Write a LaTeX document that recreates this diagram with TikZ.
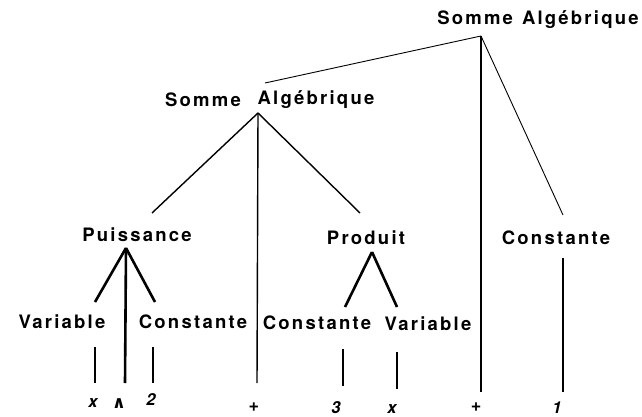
\documentclass[tikz,border=0pt]{standalone}
\usepackage{fontspec}
\newfontfamily\labfont[LetterSpace=12]{TeX Gyre Heros}
\newfontfamily\leaffont{TeX Gyre Heros}
\newfontfamily\symfont{DejaVu Sans}
\begin{document}
\begin{tikzpicture}[x=1pt,y=-1pt,
  lbl/.style={inner sep=0pt,font=\labfont\bfseries\fontsize{18.5}{20}\selectfont},
  leaf/.style={inner sep=0pt,font=\leaffont\bfseries\itshape\fontsize{16.5}{18}\selectfont},
  plus/.style={inner sep=0pt,font=\leaffont\bfseries\fontsize{18}{20}\selectfont},
  thinln/.style={line width=0.9pt},
  medln/.style={line width=1.4pt},
  boldln/.style={line width=2.6pt},
  vln/.style={line width=1.1pt}]
\useasboundingbox (0,0) rectangle (642,417);
\fill[white] (0,0) rectangle (642,417);
% labels
\node[lbl] (top) at (538,20) {Somme\hspace{9pt}Algébrique};
\node[lbl] (s2a) at (203,100) {Somme};
\node[lbl] (s2b) at (316,100) {Algébrique};
\node[lbl] (puis) at (137,235) {Puissance};
\node[lbl] (prod) at (366,238) {Produit};
\node[lbl] (cst1) at (556,238) {Constante};
\node[lbl] (var1) at (62,322) {Variable};
\node[lbl] (cst2) at (193,322) {Constante};
\node[lbl] (cst3) at (317,323) {Constante};
\node[lbl] (var2) at (428,324) {Variable};
\node[leaf] (lx) at (93,403) {x};
\node[inner sep=0pt,font=\symfont\bfseries\fontsize{17}{18}\selectfont] (lw) at (119,404) {∧};
\node[leaf] (l2) at (151,400) {2};
\node[plus] (lp1) at (254,407) {+};
\node[leaf] (l3) at (336,408) {3};
\node[leaf] (lx2) at (392,409) {x};
\node[plus] (lp2) at (476,407) {+};
\node[leaf] (l1) at (557,408) {1};
% connector points
\coordinate (T) at (481,36);
\coordinate (Ta) at (265,83);
\coordinate (Tb) at (481,392);
\coordinate (Tc) at (563,215);
\coordinate (S) at (258,113);
\coordinate (Sa) at (152,213);
\coordinate (Sb) at (257,383);
\coordinate (Sc) at (360,213);
\coordinate (P) at (126,248);
\coordinate (Pa) at (95,302);
\coordinate (Pb) at (125,383);
\coordinate (Pc) at (155,302);
\coordinate (Q) at (372,252);
\coordinate (Qa) at (345,307);
\coordinate (Qb) at (397,307);
\coordinate (v1t) at (95,347);  \coordinate (v1b) at (95,383);
\coordinate (v2t) at (153,347); \coordinate (v2b) at (153,383);
\coordinate (v3t) at (343,349); \coordinate (v3b) at (343,386);
\coordinate (v4t) at (397,352); \coordinate (v4b) at (397,389);
\coordinate (v5t) at (563,258); \coordinate (v5b) at (563,392);
% connectors
\draw[thinln] (T) -- (Ta);
\draw[medln] (T) -- (Tb);
\draw[thinln] (T) -- (Tc);
\draw[medln] (S) -- (Sa);
\draw[medln] (S) -- (Sb);
\draw[medln] (S) -- (Sc);
\draw[boldln] (P) -- (Pa);
\draw[boldln] (P) -- (Pb);
\draw[boldln] (P) -- (Pc);
\draw[boldln] (Q) -- (Qa);
\draw[boldln] (Q) -- (Qb);
\draw[vln] (v1t) -- (v1b);
\draw[vln] (v2t) -- (v2b);
\draw[vln] (v3t) -- (v3b);
\draw[vln] (v4t) -- (v4b);
\draw[vln] (v5t) -- (v5b);
\end{tikzpicture}
\end{document}
